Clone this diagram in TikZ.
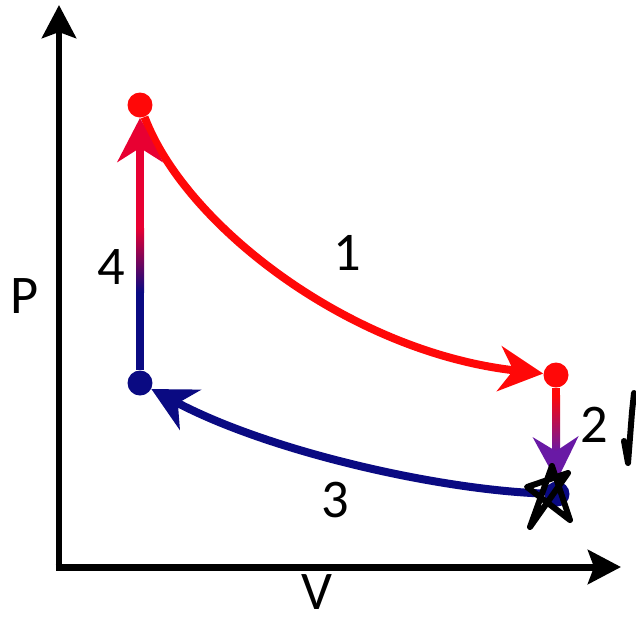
\documentclass[tikz,border=0pt]{standalone}
\usepackage{fontspec}
\setmainfont{Carlito}
\usetikzlibrary{arrows.meta}
\definecolor{cicred}{RGB}{255,8,8}
\definecolor{cicnavy}{RGB}{10,10,130}
\definecolor{cicviolet}{RGB}{105,25,165}
\definecolor{ciccrimson}{RGB}{232,0,50}
\begin{document}
\begin{tikzpicture}[x=0.02cm,y=-0.02cm,
		punt/.style={circle,fill,inner sep=0pt,minimum size=0.5cm},
		etiq/.style={inner sep=0pt,font=\fontsize{31}{31}\selectfont},
		corba/.style={line width=0.16cm,-{Stealth[length=0.88cm,width=0.9cm,inset=0.28cm]}},
		eix/.style={line width=0.14cm,-{Stealth[length=0.66cm,width=0.68cm,inset=0.12cm]}}]
		\fill[white] (0,0) rectangle (636,620);
		\useasboundingbox (0,0) rectangle (636,620);

		% Eixos
		\coordinate (O) at (59,567);
		\coordinate (Pmax) at (59,5);
		\coordinate (Vmax) at (621,567);
		\draw[eix] ([yshift=-0.07cm]O) -- (Pmax);
		\draw[eix] ([xshift=-0.07cm]O) -- (Vmax);
		\node[etiq] (lP) at (25,296) {P};
		\node[etiq] (lV) at (317,592) {V};

		% Estats del cicle
		\node[punt,cicred] (A) at (140,105) {};
		\node[punt,cicred] (B) at (556,375) {};
		\node[punt,cicnavy] (C) at (557,494) {};
		\node[punt,cicnavy] (D) at (140,383) {};

		% 1: expansio
		\draw[corba,cicred] (A) .. controls (185,225) and (350,352) .. (B);
		% 2: refredament
		\coordinate (B2) at (556,395);
		\coordinate (B3) at (556,452);
		\fill[cicred] ([xshift=-0.08cm]B.south) rectangle ([xshift=0.08cm]B2);
		\shade[top color=cicred,bottom color=cicviolet] ([xshift=-0.08cm]B2) rectangle ([xshift=0.08cm]B3);
		\draw[corba,cicviolet] (B3) -- (C);
		% 3: compressio
		\draw[corba,cicnavy] (C) .. controls (440,490) and (270,452) .. (D);
		% 4: escalfament
		\coordinate (D2) at (140,292);
		\coordinate (D3) at (140,228);
		\fill[cicnavy] ([xshift=-0.08cm]D.north) rectangle ([xshift=0.08cm]D2);
		\shade[bottom color=cicnavy,top color=ciccrimson] ([xshift=-0.08cm]D2) rectangle ([xshift=0.08cm]D3);
		\draw[corba,ciccrimson] (D3) -- (A);

		\node[etiq] (l1) at (347,253) {1};
		\node[etiq] (l2) at (594,425) {2};
		\node[etiq] (l3) at (335,500) {3};
		\node[etiq] (l4) at (111,267) {4};

		% marques a ma
		\draw[line width=0.12cm,line join=round,line cap=round] (530,527) -- (552,466) -- (570,520) -- (527,487) -- (568,473) -- cycle;
		\draw[line width=0.12cm,line join=round,line cap=round] (624,441) -- (628,463) -- (632,412) -- (634,393);
	\end{tikzpicture}
\end{document}
